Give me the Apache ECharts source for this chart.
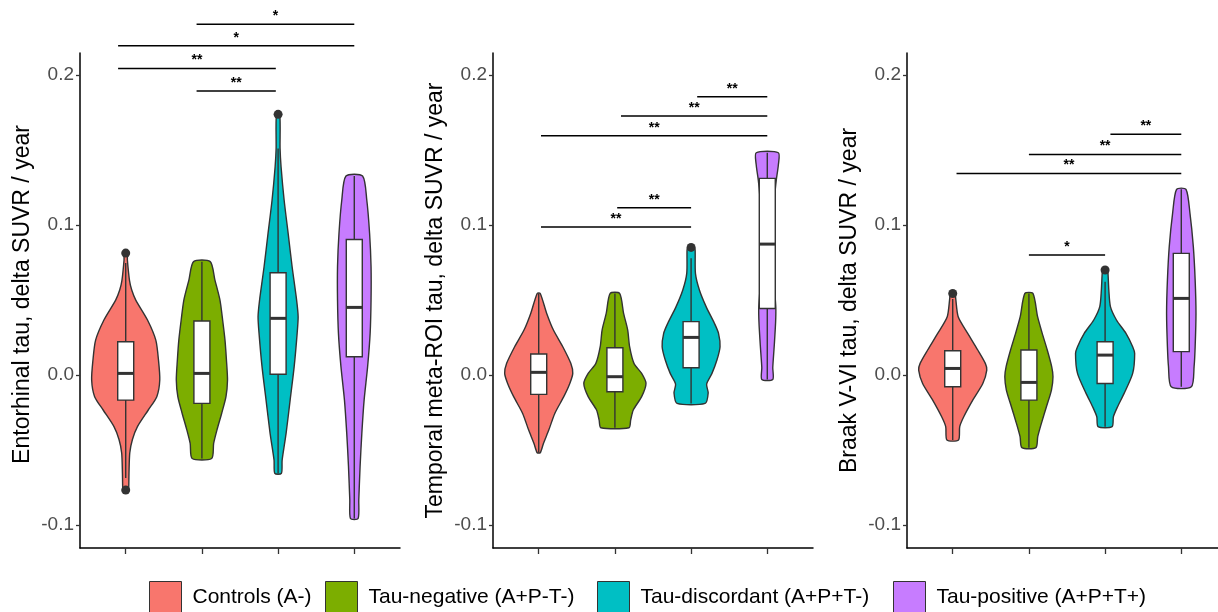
<!DOCTYPE html>
<html><head><meta charset="utf-8">
<script src="https://cdn.jsdelivr.net/npm/echarts@6/dist/echarts.min.js"></script>
<style>html,body{margin:0;padding:0;background:#fff}#c{width:1218px;height:612px}</style>
</head><body><div id="c"></div>
<script>
// ---------- data ----------
const groups = ['Controls (A-)', 'Tau-negative (A+P-T-)', 'Tau-discordant (A+P+T-)', 'Tau-positive (A+P+T+)'];
const colors = ['#F8766D', '#7CAE00', '#00BFC4', '#C77CFF'];
const yTitles = ['Entorhinal tau, delta SUVR / year', 'Temporal meta-ROI tau, delta SUVR / year', 'Braak V-VI tau, delta SUVR / year'];
const yTicks = [-0.1, 0, 0.1, 0.2];
const xTicks = [1, 2, 3, 4];

// violin outlines: [value, half-width in category units], top to bottom
const entorhinalViolins = [
  [[0.0813,0.02],[0.0767,0.022],[0.063,0.05],[0.0567,0.079],[0.05,0.132],[0.0367,0.286],[0.0233,0.395],[0.01,0.43],[-0.0033,0.447],[-0.0144,0.408],[-0.0233,0.296],[-0.0344,0.154],[-0.043,0.088],[-0.052,0.053],[-0.0656,0.043],[-0.0744,0.04],[-0.077,0.035]],
  [[0.0756,0.109],[0.0633,0.171],[0.05,0.237],[0.0367,0.272],[0.0233,0.303],[0.01,0.322],[-0.0033,0.336],[-0.0144,0.316],[-0.0256,0.259],[-0.0367,0.197],[-0.0456,0.154],[-0.0556,0.128]],
  [[0.1738,0.022],[0.151,0.026],[0.1389,0.039],[0.1167,0.079],[0.0944,0.132],[0.0722,0.184],[0.05,0.243],[0.0389,0.263],[0.0278,0.25],[0.0056,0.211],[-0.0167,0.158],[-0.0389,0.105],[-0.0567,0.053],[-0.0656,0.043]],
  [[0.1327,0.109],[0.1167,0.164],[0.0944,0.201],[0.0722,0.22],[0.05,0.22],[0.0278,0.208],[0.0056,0.175],[-0.0167,0.129],[-0.0389,0.099],[-0.0611,0.076],[-0.0833,0.059],[-0.0956,0.05]]
];
const temporalViolins = [
  [[0.0544,0.02],[0.0411,0.105],[0.03,0.193],[0.0189,0.316],[0.0078,0.421],[0.0011,0.447],[-0.0056,0.408],[-0.0144,0.329],[-0.0256,0.211],[-0.0367,0.132],[-0.0456,0.062],[-0.0518,0.02]],
  [[0.0544,0.062],[0.0411,0.114],[0.03,0.168],[0.0189,0.193],[0.0078,0.25],[0.0011,0.351],[-0.0056,0.408],[-0.0144,0.351],[-0.0233,0.241],[-0.03,0.207],[-0.0351,0.184]],
  [[0.0851,0.04],[0.0833,0.053],[0.0678,0.057],[0.0567,0.109],[0.0456,0.197],[0.0344,0.307],[0.0278,0.36],[0.0189,0.38],[0.01,0.339],[0.0011,0.274],[-0.006,0.204],[-0.012,0.224],[-0.0189,0.184]],
  [[0.1482,0.145],[0.14,0.145],[0.13,0.118],[0.12,0.099],[0.1,0.086],[0.08,0.086],[0.06,0.092],[0.045,0.112],[0.035,0.109],[0.02,0.092],[0.005,0.072],[-0.0029,0.072]]
];
const braakViolins = [
  [[0.0544,0.03],[0.0511,0.039],[0.0389,0.072],[0.0278,0.197],[0.0167,0.329],[0.0078,0.428],[0.0033,0.447],[-0.0056,0.395],[-0.0167,0.263],[-0.0278,0.145],[-0.0344,0.092],[-0.0433,0.076]],
  [[0.0544,0.053],[0.0389,0.114],[0.0278,0.175],[0.0167,0.241],[0.0056,0.299],[-0.0011,0.316],[-0.01,0.296],[-0.0211,0.23],[-0.0322,0.164],[-0.0411,0.116],[-0.0484,0.092]],
  [[0.07,0.03],[0.0689,0.037],[0.0567,0.049],[0.0456,0.07],[0.0367,0.149],[0.0278,0.274],[0.0189,0.362],[0.0144,0.388],[0.0011,0.362],[-0.0122,0.25],[-0.0211,0.164],[-0.0278,0.109],[-0.0344,0.092]],
  [[0.1238,0.062],[0.1078,0.114],[0.0856,0.158],[0.0633,0.182],[0.0411,0.193],[0.0189,0.182],[0.0056,0.168],[-0.0078,0.132]]
];

// boxplots: [lower whisker, Q1, median, Q3, upper whisker]
const entorhinalBoxes = [[-0.0687,-0.0167,0.0011,0.0222,0.0747],[-0.0556,-0.0189,0.0011,0.036,0.0756],[-0.0656,0.0005,0.0378,0.0682,0.151],[-0.0956,0.0122,0.0451,0.0904,0.1327]];
const temporalBoxes = [[-0.0518,-0.0129,0.0018,0.014,0.0544],[-0.0351,-0.0111,-0.0011,0.0182,0.0544],[-0.0189,0.0049,0.0251,0.0356,0.0778],[-0.0029,0.0444,0.0873,0.1311,0.1482]];
const braakBoxes = [[-0.0433,-0.0078,0.0044,0.0162,0.0507],[-0.0484,-0.0167,-0.0049,0.0167,0.0544],[-0.0344,-0.0056,0.0133,0.0222,0.0622],[-0.0078,0.0156,0.0511,0.0811,0.1238]];

// outliers: [group, value]
const entorhinalOutliers = [[1,0.0813],[1,-0.0767],[3,0.1738]];
const temporalOutliers = [[3,0.0851]];
const braakOutliers = [[1,0.0544],[3,0.07]];

// significance brackets: [from, to, value, label]
const entorhinalSig = [[1.93,4,0.2338,'*'],[0.9,4,0.2195,'*'],[0.9,2.97,0.2043,'**'],[1.93,2.97,0.1893,'**']];
const temporalSig = [[3.08,4,0.1856,'**'],[2.08,4,0.1727,'**'],[1.03,4,0.1596,'**'],[2.03,3,0.1116,'**'],[1.03,3,0.0987,'**']];
const braakSig = [[3.07,4,0.1605,'**'],[2,4,0.1471,'**'],[1.05,4,0.1344,'**'],[2,3,0.08,'*']];

// ---------- chart ----------
const panels = [
  {violins: entorhinalViolins, boxes: entorhinalBoxes, outliers: entorhinalOutliers, sig: entorhinalSig},
  {violins: temporalViolins, boxes: temporalBoxes, outliers: temporalOutliers, sig: temporalSig},
  {violins: braakViolins, boxes: braakBoxes, outliers: braakOutliers, sig: braakSig}
];
const FONT = 'Liberation Sans, Arial, Helvetica, sans-serif';
const gridLefts = [80, 493, 907];
const gridWidths = [320, 320, 311];          // last panel is cut by the picture edge
const xMaxs = [4.6, 4.6, 0.4 + 4.2 * 311 / 320];
const titlePads = [[0, 0, 0, 12], [0, 0, 0, 0], [0, 0, 0, 0]];
const INK = '#333333';

const grid = [], xAxis = [], yAxis = [], series = [];
panels.forEach((P, p) => {
  grid.push({left: gridLefts[p], top: 53, width: gridWidths[p], height: 495, containLabel: false});
  xAxis.push({
    type: 'value', gridIndex: p, min: 0.4, max: xMaxs[p],
    axisLine: {show: true, onZero: false, lineStyle: {color: '#000', width: 1.5}},
    axisTick: {show: true, customValues: xTicks, length: 6, lineStyle: {color: INK, width: 1.3}},
    axisLabel: {show: false, customValues: xTicks},
    splitLine: {show: false}
  });
  yAxis.push({
    type: 'value', gridIndex: p, min: -0.1153, max: 0.2147,
    axisLine: {show: true, onZero: false, lineStyle: {color: '#000', width: 1.5}},
    axisTick: {show: true, customValues: yTicks, length: 4, lineStyle: {color: INK, width: 1.3}},
    axisLabel: {customValues: yTicks, fontSize: 19, color: '#4D4D4D', fontFamily: FONT, margin: 6,
      formatter: v => (Math.abs(v) < 1e-9 ? '0.0' : (+v).toFixed(1))},
    splitLine: {show: false},
    name: yTitles[p], nameLocation: 'middle', nameGap: 46,
    nameTextStyle: {fontSize: 23, color: '#000', fontFamily: FONT, padding: titlePads[p]}
  });

  P.violins.forEach((prof, g) => {
    const box = P.boxes[g];
    series.push({
      type: 'custom', name: groups[g], xAxisIndex: p, yAxisIndex: p,
      itemStyle: {color: colors[g]},
      encode: {x: 0, y: 1},
      data: [[g + 1, box[2]]],
      z: 2,
      renderItem: (params, api) => {
        const cx = g + 1;
        const right = prof.map(d => api.coord([cx + d[1], d[0]]));
        const left = prof.slice().reverse().map(d => api.coord([cx - d[1], d[0]]));
        const bw = 0.105;
        const lo = api.coord([cx, box[0]]), hi = api.coord([cx, box[4]]);
        const q1l = api.coord([cx - bw, box[1]]), q3r = api.coord([cx + bw, box[3]]);
        const medL = api.coord([cx - bw, box[2]]), medR = api.coord([cx + bw, box[2]]);
        return {type: 'group', children: [
          {type: 'polygon', shape: {points: right.concat(left), smooth: 0.25},
           style: {fill: colors[g], stroke: INK, lineWidth: 1.4}},
          {type: 'line', shape: {x1: lo[0], y1: lo[1], x2: hi[0], y2: hi[1]},
           style: {stroke: INK, lineWidth: 1.4}},
          {type: 'rect', shape: {x: q1l[0], y: q3r[1], width: q3r[0] - q1l[0], height: q1l[1] - q3r[1]},
           style: {fill: '#fff', stroke: INK, lineWidth: 1.4}},
          {type: 'line', shape: {x1: medL[0], y1: medL[1], x2: medR[0], y2: medR[1]},
           style: {stroke: INK, lineWidth: 3}}
        ]};
      }
    });
  });

  series.push({
    type: 'scatter', xAxisIndex: p, yAxisIndex: p, data: P.outliers,
    symbolSize: 9, itemStyle: {color: INK, opacity: 1}, z: 5, silent: true
  });

  series.push({
    type: 'custom', xAxisIndex: p, yAxisIndex: p, clip: false, z: 6,
    encode: {x: [0, 1], y: 2},
    data: P.sig,
    renderItem: (params, api) => {
      const d = P.sig[params.dataIndex];
      const a = api.coord([d[0], d[2]]), b = api.coord([d[1], d[2]]);
      return {type: 'group', children: [
        {type: 'line', shape: {x1: a[0], y1: a[1], x2: b[0], y2: b[1]}, style: {stroke: '#000', lineWidth: 1.5}},
        {type: 'text', style: {text: d[3], x: (a[0] + b[0]) / 2, y: a[1] - 1, align: 'center', verticalAlign: 'bottom',
          fontSize: 14, fontWeight: 'bold', fill: '#000', fontFamily: FONT}}
      ]};
    }
  });
});

// one legend per key, placed like the reference
const legendLefts = [149, 325, 597, 893];
const legend = groups.map((name, i) => ({
  data: [name], left: legendLefts[i], top: 581, padding: 0,
  itemWidth: 32, itemHeight: 32, icon: 'rect',
  itemStyle: {borderColor: INK, borderWidth: 1},
  textStyle: {fontSize: 21, color: '#000', fontFamily: FONT, padding: [0, 0, 0, 6]},
  selectedMode: false
}));

const chart = echarts.init(document.getElementById('c'), null, {renderer: 'canvas'});
chart.setOption({
  animation: false,
  backgroundColor: '#fff',
  grid, xAxis, yAxis, series, legend
});
</script></body></html>
